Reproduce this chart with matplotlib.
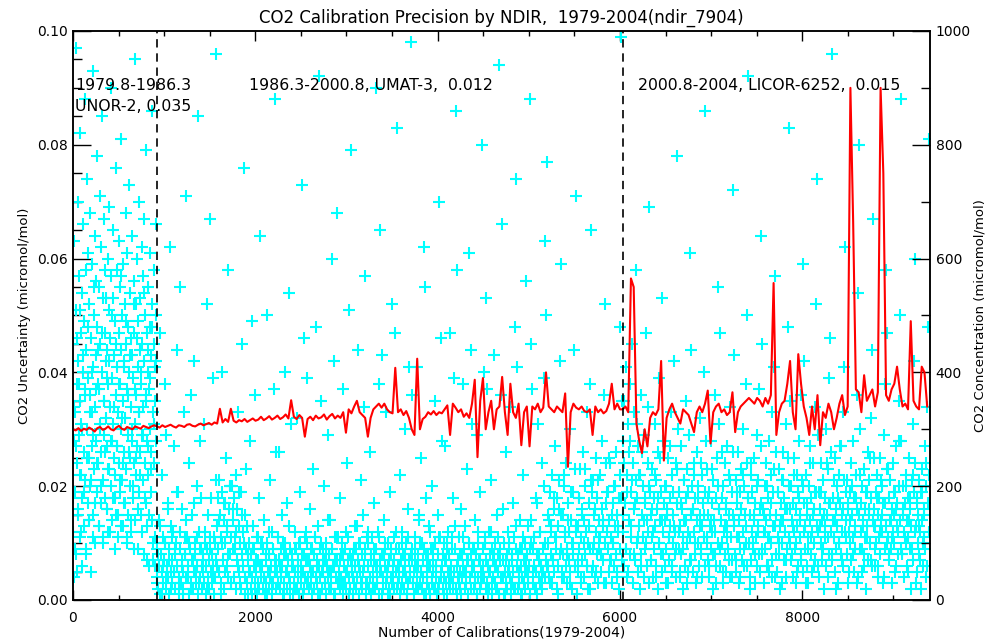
import numpy as np
import matplotlib
matplotlib.use('Agg')
import matplotlib.pyplot as plt
from matplotlib.ticker import MultipleLocator

# calibration numbers where the analyser changed
era_bounds = [0, 920, 6030, 9400]
era_notes = ['1979.8-1986.3', 'UNOR-2, 0.035', '1986.3-2000.8, UMAT-3,  0.012',
             '2000.8-2004, LICOR-6252,  0.015']

# uncertainty per calibration, in 0.001 micromol/mol (subsampled)
unor_unc = [12, 45, 4, 28, 63, 19, 33, 8, 51, 97, 24, 38, 5, 70, 16, 42, 29, 57, 11, 35, 82, 22, 47,
            31, 6, 54, 18, 40, 66, 26, 13, 49, 37, 88, 21, 58, 9, 44, 30, 74, 17, 39, 61, 25, 52, 14,
            36, 68, 20, 46, 5, 33, 59, 27, 41, 93, 15, 50, 23, 64, 34, 10, 43, 56, 28, 78, 19, 48, 38,
            24, 55, 13, 37, 71, 30, 45, 17, 62, 26, 40, 85, 21, 53, 11, 35, 67, 29, 47, 18, 58, 32, 42,
            16, 44, 27, 60, 38, 12, 51, 23, 69, 34, 46, 20, 57, 90, 28, 39, 14, 53, 31, 65, 25, 43, 18,
            49, 22, 36, 76, 15, 41, 58, 27, 33, 11, 47, 63, 24, 38, 19, 55, 30, 44, 81, 21, 50, 13, 35,
            59, 26, 42, 17, 52, 32, 68, 23, 45, 10, 37, 61, 29, 48, 15, 40, 73, 25, 54, 20, 34, 46, 12,
            43, 28, 64, 18, 39, 56, 24, 47, 95, 31, 14, 52, 36, 22, 60, 27, 41, 9, 49, 33, 70, 19, 44,
            26, 53, 15, 38, 62, 29, 45, 21, 57, 34, 8, 42, 67, 24, 50, 17, 36, 79, 28, 47, 13, 40, 55,
            22, 37, 6, 48, 30, 61, 19, 43, 26, 86, 14, 52, 33, 7, 45, 24, 58, 35, 11, 41, 66, 28, 50]
# second subsample (in-between calibrations) of the same era
unor_more = [18, 34, 9, 27, 46, 15, 38, 22, 51, 12, 30, 43, 19, 36, 8, 25, 48, 14, 33, 21, 40, 11,
             29, 55, 17, 37, 24, 44, 13, 31, 20, 47, 10, 35, 26, 53, 16, 39, 23, 42, 12, 28, 50, 18,
             34, 9, 45, 27, 15, 38, 21, 57, 13, 32, 24, 41, 17, 49, 11, 36, 26, 43, 14, 30, 20, 52,
             9, 37, 25, 46, 16, 33, 22, 40, 12, 29, 54, 18, 35, 7, 27, 44, 15, 39, 23, 48, 10, 31, 6, 42]

umat_unc = [4, 9, 2, 14, 6, 1, 47, 8, 22, 5, 11, 3, 7, 38, 10, 2, 29, 6, 17, 4, 9, 1, 62, 13, 5,
            7, 3, 12, 5, 27, 8, 2, 10, 44, 6, 19, 4, 1, 9, 55, 3, 7, 16, 5, 2, 33, 8, 11, 71, 4,
            11, 4, 6, 24, 1, 9, 36, 3, 15, 7, 2, 42, 5, 10, 8, 3, 20, 6, 1, 85, 12, 4, 28, 9, 18,
            2, 8, 5, 31, 3, 10, 6, 1, 52, 9, 4, 7, 2, 67, 11, 5, 8, 3, 39, 6, 1, 10, 4, 96, 7,
            13, 18, 9, 21, 5, 15, 11, 3, 40, 19, 7, 14, 2, 17, 10, 25, 6, 12, 58, 4, 16, 8, 20, 3, 11,
            20, 9, 14, 4, 18, 11, 2, 22, 7, 16, 33, 5, 13, 10, 3, 19, 8, 45, 6, 12, 76, 15, 1, 23, 9,
            3, 7, 1, 10, 5, 28, 2, 8, 49, 4, 13, 6, 9, 2, 36, 5, 1, 11, 7, 3, 18, 64, 6, 10, 4,
            6, 2, 9, 4, 14, 1, 7, 3, 50, 10, 5, 2, 8, 21, 4, 6, 1, 12, 3, 9, 37, 5, 88, 7, 26,
            5, 11, 3, 7, 26, 2, 9, 4, 15, 6, 1, 8, 3, 40, 10, 5, 2, 17, 7, 4, 54, 9, 1, 31, 6,
            8, 1, 6, 3, 12, 5, 9, 2, 32, 7, 4, 10, 1, 19, 6, 3, 73, 8, 5, 2, 46, 11, 4, 7, 39,
            10, 4, 7, 2, 16, 6, 3, 9, 1, 23, 5, 8, 2, 11, 4, 48, 7, 3, 13, 6, 92, 1, 9, 35, 5,
            2, 9, 5, 20, 3, 7, 1, 10, 6, 29, 4, 8, 2, 14, 5, 3, 60, 9, 6, 1, 42, 7, 11, 4, 68,
            7, 3, 11, 5, 2, 18, 8, 4, 10, 1, 37, 6, 3, 9, 2, 12, 5, 24, 7, 4, 51, 8, 2, 79, 6,
            5, 1, 8, 3, 13, 6, 2, 9, 4, 44, 7, 1, 10, 5, 21, 3, 8, 2, 15, 6, 34, 9, 57, 3, 11,
            3, 10, 6, 2, 26, 4, 8, 1, 11, 5, 3, 17, 7, 2, 90, 9, 4, 6, 12, 1, 38, 7, 65, 5, 43,
            8, 4, 2, 14, 6, 9, 3, 33, 5, 1, 10, 7, 2, 19, 4, 8, 3, 52, 6, 11, 2, 47, 9, 5, 83,
            2, 6, 9, 4, 22, 1, 7, 3, 12, 5, 8, 2, 30, 6, 4, 10, 1, 16, 3, 7, 41, 5, 98, 8, 36,
            9, 3, 5, 1, 11, 7, 2, 41, 4, 8, 6, 14, 3, 10, 5, 25, 2, 7, 4, 62, 9, 55, 1, 18, 6,
            4, 8, 2, 13, 6, 1, 9, 3, 20, 5, 7, 2, 35, 10, 4, 6, 1, 15, 8, 3, 70, 11, 46, 5, 28,
            6, 2, 10, 4, 27, 7, 3, 9, 1, 12, 5, 8, 2, 47, 6, 4, 11, 3, 18, 5, 39, 9, 86, 2, 58,
            1, 7, 3, 11, 5, 2, 16, 8, 4, 38, 6, 9, 2, 13, 5, 3, 23, 7, 1, 10, 61, 4, 44, 8, 31,
            5, 9, 2, 6, 14, 3, 8, 1, 29, 4, 10, 7, 2, 19, 5, 3, 80, 6, 9, 4, 40, 11, 53, 2, 37,
            3, 6, 12, 2, 8, 5, 21, 1, 9, 4, 7, 43, 3, 10, 6, 2, 15, 5, 8, 1, 94, 7, 36, 4, 66,
            7, 4, 1, 10, 5, 26, 3, 8, 2, 12, 6, 9, 4, 34, 1, 7, 3, 17, 5, 11, 48, 2, 74, 9, 41,
            2, 8, 5, 3, 14, 6, 1, 9, 4, 22, 7, 3, 10, 2, 56, 5, 8, 4, 13, 6, 88, 1, 45, 10, 37,
            9, 3, 6, 11, 2, 18, 5, 8, 1, 31, 4, 7, 3, 12, 6, 2, 24, 9, 5, 39, 63, 4, 50, 7, 77,
            10, 6, 14, 4, 19, 8, 12, 3, 22, 7, 16, 5, 11, 27, 9, 2, 18, 13, 6, 21, 42, 8, 15, 59, 4,
            8, 15, 4, 20, 11, 6, 24, 9, 3, 17, 12, 7, 30, 5, 14, 10, 2, 19, 8, 44, 23, 6, 71, 13, 1,
            13, 5, 18, 9, 23, 3, 11, 16, 7, 26, 4, 14, 8, 20, 12, 6, 33, 10, 2, 17, 38, 9, 65, 21, 5,
            6, 21, 10, 15, 4, 12, 25, 8, 18, 3, 14, 9, 22, 11, 5, 28, 16, 7, 13, 36, 52, 10, 24, 3, 19,
            9, 19, 5, 14, 24, 7, 11, 3, 17, 10, 20, 6, 13, 8, 26, 4, 15, 12, 2, 18, 48, 22, 99, 7, 35]
umat_more = [3, 8, 13, 1, 6, 10, 4, 16, 7, 2, 11, 5, 9, 19, 3, 12, 6, 1, 8, 14, 4, 10, 2, 7, 17, 5, 11, 3, 9, 6,
             7, 12, 2, 15, 9, 18, 4, 11, 21, 6, 14, 1, 10, 17, 5, 13, 8, 20, 3, 16, 9, 12, 6, 19, 2, 15, 10, 4, 13, 8,
             5, 1, 9, 3, 7, 11, 2, 6, 10, 4, 8, 1, 12, 5, 3, 9, 7, 2, 11, 6, 4, 10, 1, 8, 5, 13, 3, 7, 2, 9,
             2, 6, 10, 4, 1, 8, 12, 3, 7, 5, 9, 2, 11, 6, 1, 4, 10, 7, 3, 8, 14, 5, 2, 9, 6, 1, 11, 4, 7, 3,
             8, 3, 5, 11, 1, 7, 4, 9, 2, 13, 6, 10, 3, 5, 8, 1, 12, 4, 7, 2, 9, 6, 3, 11, 5, 1, 8, 10, 4, 6,
             1, 9, 4, 7, 12, 3, 6, 2, 10, 5, 8, 1, 11, 4, 7, 3, 9, 6, 2, 15, 5, 10, 1, 8, 3, 6, 12, 4, 9, 2,
             6, 2, 11, 4, 8, 1, 7, 10, 3, 5, 9, 2, 13, 6, 4, 8, 1, 11, 5, 3, 7, 10, 2, 6, 9, 4, 1, 12, 7, 3,
             4, 10, 7, 1, 5, 12, 3, 8, 6, 2, 11, 9, 4, 16, 1, 7, 5, 10, 3, 8, 2, 13, 6, 4, 9, 1, 11, 5, 7, 3,
             9, 14, 5, 11, 2, 17, 8, 12, 4, 20, 10, 6, 15, 3, 13, 7, 18, 11, 1, 16, 9, 5, 22, 12, 8, 14, 3, 19, 10, 6,
             12, 7, 18, 4, 15, 10, 23, 6, 13, 2, 19, 9, 16, 5, 21, 11, 8, 14, 3, 17, 12, 25, 7, 15, 10, 20, 5, 13, 9, 18]

licor_unc = [12, 28, 6, 35, 17, 9, 41, 22, 4, 31, 14, 26, 8, 38, 19, 11, 45, 24, 3, 16, 33, 7, 58, 21,
             10, 18, 5, 27, 13, 2, 22, 8, 36, 15, 11, 20, 4, 29, 9, 17, 47, 6, 14, 24, 12, 69, 3, 19,
             7, 15, 11, 23, 4, 18, 9, 31, 13, 6, 21, 16, 2, 26, 10, 39, 14, 8, 19, 5, 53, 12, 28, 17,
             14, 6, 20, 9, 16, 3, 25, 11, 7, 18, 13, 33, 5, 22, 10, 15, 42, 8, 12, 24, 4, 78, 17, 30,
             9, 19, 4, 13, 27, 8, 16, 11, 2, 21, 14, 6, 35, 18, 10, 23, 5, 12, 29, 7, 61, 15, 44, 20,
             16, 5, 12, 22, 8, 18, 3, 14, 26, 10, 20, 6, 15, 32, 9, 24, 13, 4, 17, 40, 11, 86, 19, 28,
             11, 23, 7, 15, 19, 4, 13, 28, 9, 17, 12, 2, 21, 14, 8, 36, 18, 6, 25, 10, 55, 16, 31, 47,
             6, 14, 18, 10, 3, 20, 12, 24, 8, 16, 5, 27, 13, 9, 22, 15, 4, 34, 11, 19, 7, 72, 26, 43,
             13, 8, 21, 5, 17, 11, 26, 14, 3, 19, 9, 23, 16, 7, 30, 12, 20, 6, 15, 38, 10, 50, 24, 92,
             18, 10, 4, 15, 22, 7, 12, 19, 9, 25, 14, 3, 17, 11, 29, 6, 21, 13, 8, 37, 16, 64, 27, 45,
             8, 16, 12, 3, 20, 9, 14, 24, 6, 18, 11, 28, 5, 15, 22, 10, 33, 7, 19, 13, 41, 4, 57, 26,
             15, 5, 19, 11, 23, 8, 13, 2, 17, 21, 10, 14, 26, 7, 18, 12, 4, 31, 16, 9, 48, 20, 83, 35,
             10, 20, 7, 14, 4, 17, 12, 25, 9, 16, 3, 22, 13, 6, 19, 28, 11, 15, 8, 36, 21, 59, 5, 42,
             17, 9, 13, 22, 6, 15, 11, 3, 20, 14, 27, 8, 18, 12, 5, 24, 10, 16, 34, 7, 52, 19, 74, 29,
             12, 19, 4, 16, 10, 24, 7, 14, 21, 9, 2, 18, 13, 30, 6, 15, 11, 23, 8, 39, 17, 46, 26, 96,
             7, 14, 18, 11, 25, 5, 16, 9, 20, 13, 3, 22, 10, 17, 27, 8, 15, 12, 33, 6, 41, 21, 62, 19,
             14, 8, 21, 16, 3, 12, 19, 10, 24, 7, 15, 11, 28, 5, 18, 13, 9, 22, 36, 16, 54, 4, 80, 30,
             9, 17, 12, 5, 20, 14, 8, 23, 11, 16, 2, 19, 13, 26, 7, 15, 21, 10, 32, 18, 44, 6, 67, 25,
             16, 6, 13, 19, 10, 22, 4, 15, 11, 18, 25, 8, 14, 20, 12, 3, 17, 29, 9, 38, 13, 58, 23, 47,
             11, 18, 7, 14, 21, 9, 16, 3, 12, 24, 15, 10, 19, 6, 27, 13, 17, 8, 35, 20, 50, 14, 88, 28,
             8, 15, 20, 12, 4, 17, 10, 22, 14, 6, 18, 11, 25, 9, 16, 13, 2, 21, 31, 7, 42, 19, 60, 24,
             13, 5, 18, 10, 15, 21, 8, 12, 2, 19, 14, 23, 6, 16, 11, 27, 9, 20, 4, 34, 17, 48, 81, 22]
licor_more = [15, 24, 9, 19, 5, 28, 13, 21, 8, 17, 31, 11, 22, 6, 26, 14, 18, 10, 34, 20,
              7, 16, 12, 22, 4, 18, 10, 25, 14, 8, 20, 3, 15, 11, 27, 6, 19, 13, 9, 23,
              12, 5, 17, 9, 21, 14, 3, 19, 11, 7, 16, 24, 10, 4, 18, 13, 8, 22, 15, 6,
              10, 18, 6, 14, 23, 8, 12, 3, 20, 16, 9, 26, 5, 13, 17, 11, 7, 21, 4, 15,
              14, 7, 19, 11, 4, 16, 22, 9, 13, 6, 18, 2, 24, 10, 15, 8, 20, 12, 5, 17,
              9, 15, 12, 20, 6, 11, 17, 4, 23, 13, 8, 19, 10, 14, 3, 21, 16, 7, 25, 11,
              16, 8, 13, 22, 10, 5, 18, 14, 7, 20, 12, 3, 17, 9, 24, 11, 15, 6, 19, 13,
              6, 13, 19, 9, 15, 11, 24, 4, 17, 12, 8, 21, 14, 2, 18, 10, 27, 7, 16, 12,
              11, 17, 5, 14, 20, 8, 12, 18, 3, 15, 22, 9, 13, 6, 19, 11, 16, 25, 7, 14,
              13, 9, 18, 6, 12, 21, 15, 4, 17, 10, 23, 8, 14, 11, 19, 5, 16, 12, 28, 9,
              8, 16, 11, 20, 5, 14, 18, 9, 22, 12, 3, 17, 13, 7, 19, 10, 15, 24, 6, 12]

# CO2 concentration, micromol/mol (about every 30th calibration)
unor_co2 = [300, 298, 302, 297, 301, 299, 303, 300, 296, 302, 304, 299, 301, 305, 300, 298,
            303, 306, 301, 299, 304, 302, 300, 305, 303, 301, 306, 304, 302, 305, 307]
umat_co2 = [305, 303, 307, 304, 306, 308, 305, 303, 307, 306, 304, 308, 309, 306, 305, 308, 310, 307, 309, 311,
            308, 312, 310, 336, 312, 318, 313, 336, 315, 312, 316, 314, 318, 313, 316, 319, 315, 317, 322, 316,
            319, 323, 317, 320, 324, 318, 321, 326, 319, 351, 322, 318, 325, 320, 287, 318, 322, 316, 324, 319,
            321, 326, 317, 323, 327, 319, 324, 320, 330, 294, 335, 328, 340, 350, 330, 325, 320, 287, 320, 335,
            340, 345, 338, 345, 335, 330, 328, 408, 330, 335, 325, 332, 320, 300, 290, 424, 300, 318, 322, 330,
            326, 332, 325, 330, 328, 335, 342, 290, 345, 338, 330, 335, 322, 328, 320, 345, 387, 251, 350, 390,
            300, 330, 350, 300, 335, 340, 392, 330, 290, 380, 330, 320, 345, 272, 330, 340, 270, 340, 335, 345,
            330, 338, 400, 340, 335, 330, 340, 335, 330, 363, 234, 330, 345, 338, 335, 340, 332, 330, 335, 290,
            340, 330, 335, 328, 332, 345, 380, 335, 345, 335]
licor_co2 = [335, 340, 330, 565, 550, 310, 280, 258, 300, 270, 320, 330, 325, 335, 420, 245,
             320, 335, 345, 330, 320, 310, 335, 330, 325, 310, 295, 330, 340, 330, 345, 368,
             275, 330, 340, 345, 330, 335, 325, 330, 365, 295, 330, 340, 345, 350, 355, 350,
             345, 355, 350, 340, 355, 345, 360, 557, 290, 330, 345, 350, 380, 420, 330, 300,
             432, 380, 340, 320, 290, 340, 300, 360, 272, 330, 320, 345, 330, 300, 320, 345,
             360, 325, 340, 900, 665, 370, 365, 330, 395, 350, 360, 370, 340, 365, 900, 750,
             360, 350, 370, 380, 410, 370, 340, 345, 335, 490, 350, 340, 335, 410, 400, 340]

plt.rcParams['font.family'] = 'DejaVu Sans'

fig = plt.figure(figsize=(9.89, 6.41), dpi=100)
ax = fig.add_axes([0.0738, 0.064, 0.8665, 0.8877])
ax2 = ax.twinx()

unc_sets = [[unor_unc, unor_more], [umat_unc, umat_more], [licor_unc, licor_more]]
co2_sets = [unor_co2, umat_co2, licor_co2]
co2_x, co2_y = [], []
for k in range(3):
    lo, hi = era_bounds[k], era_bounds[k + 1]
    for vals in unc_sets[k]:
        u = np.array(vals) / 1000.0
        ax.plot(np.linspace(lo, hi, len(u), endpoint=False), u, ls='none', marker='+',
                color='cyan', ms=9, mew=1.5)
    co2_x.extend(np.linspace(lo, hi, len(co2_sets[k]), endpoint=False))
    co2_y.extend(co2_sets[k])

ax2.plot(co2_x, co2_y, color='red', lw=1.5)
for b in era_bounds[1:3]:
    ax2.axvline(b, color='black', lw=1.2, ls=(0, (5, 3.5)))

ax.set_xlim(0, 9400)
ax.set_ylim(0, 0.1)
ax2.set_ylim(0, 1000)

ax.xaxis.set_major_locator(MultipleLocator(2000))
ax.xaxis.set_minor_locator(MultipleLocator(500))
ax.yaxis.set_major_locator(MultipleLocator(0.02))
ax.yaxis.set_minor_locator(MultipleLocator(0.005))
ax.yaxis.set_major_formatter(plt.FormatStrFormatter('%.2f'))
ax2.yaxis.set_major_locator(MultipleLocator(200))
ax2.yaxis.set_minor_locator(MultipleLocator(100))

ax.tick_params(axis='x', which='both', direction='in', top=True, labelsize=10, pad=8)
ax.tick_params(axis='x', which='major', length=7.2, width=1)
ax.tick_params(axis='x', which='minor', length=3.6, width=1)
ax.tick_params(axis='y', which='both', direction='in', labelsize=10, pad=4)
ax.tick_params(axis='y', which='major', length=13, width=1)
ax.tick_params(axis='y', which='minor', length=6.5, width=1)
ax2.tick_params(axis='y', which='both', direction='in', labelsize=10, pad=4)
ax2.tick_params(axis='y', which='major', length=13, width=1)
ax2.tick_params(axis='y', which='minor', length=6.5, width=1)

for a in (ax, ax2):
    for s in a.spines.values():
        s.set_linewidth(1.1)

ax.set_title('CO2 Calibration Precision by NDIR,  1979-2004(ndir_7904)', fontsize=12, pad=6)
ax.set_xlabel('Number of Calibrations(1979-2004)', fontsize=10, labelpad=0)
ax.set_ylabel('CO2 Uncertainty (micromol/mol)', fontsize=9.5, labelpad=4)
ax2.set_ylabel('CO2 Concentration (micromol/mol)', fontsize=9.5, labelpad=2)

ax2.text(25, 905, era_notes[0], fontsize=11.3, va='center')
ax2.text(25, 867, era_notes[1], fontsize=11.3, va='center')
ax2.text(1930, 905, era_notes[2], fontsize=11.3, va='center')
ax2.text(6200, 905, era_notes[3], fontsize=11.3, va='center')

fig.savefig('out.png', dpi=100)
